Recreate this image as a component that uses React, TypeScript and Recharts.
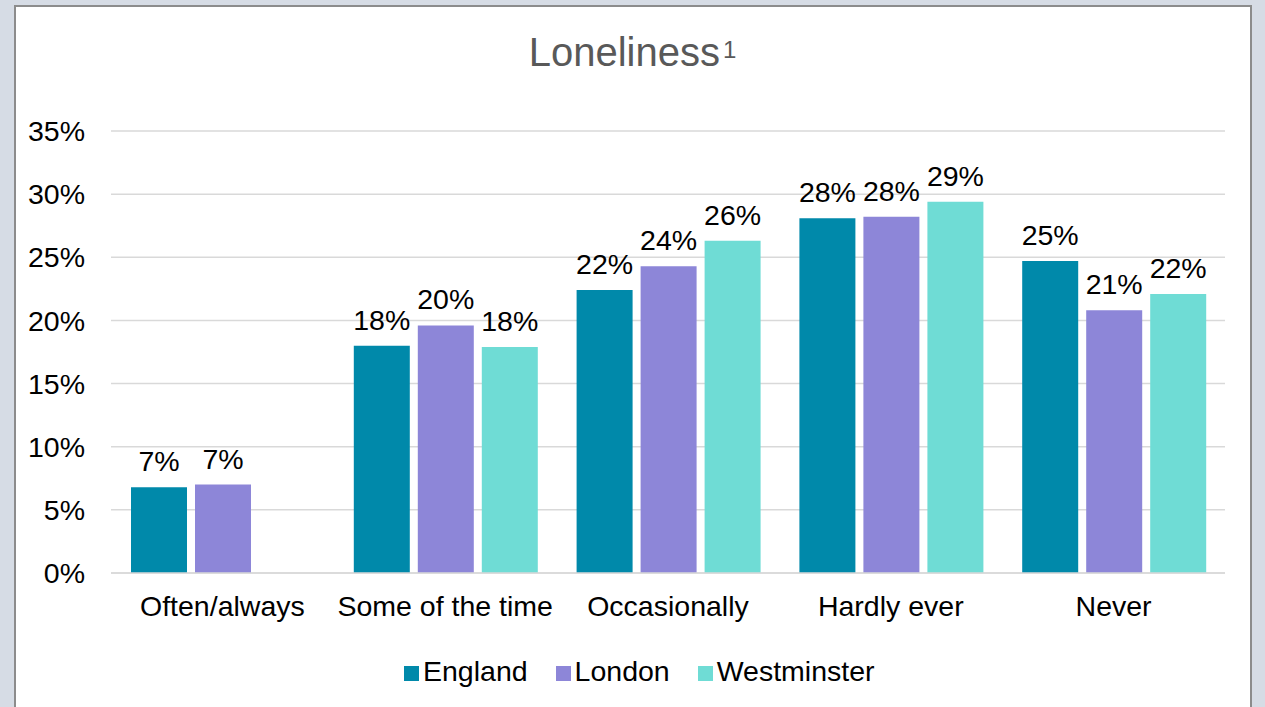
import React from 'react';
import { BarChart, Bar, XAxis, YAxis, CartesianGrid, Legend, LabelList } from 'recharts';

const categories = ['Often/always', 'Some of the time', 'Occasionally', 'Hardly ever', 'Never'];
const england = [6.8, 18.0, 22.4, 28.1, 24.7];
const london = [7.0, 19.6, 24.3, 28.2, 20.8];
const westminster: (number | null)[] = [null, 17.9, 26.3, 29.4, 22.1];
const yTicks = [0, 5, 10, 15, 20, 25, 30, 35];

const data = categories.map((c, i) => ({
  name: c,
  England: england[i],
  London: london[i],
  Westminster: westminster[i],
}));

const FONT = 'Liberation Sans, Arial, sans-serif';
const FS = 28.5;
const fmt = (v: any) => (v == null ? '' : `${Math.round(v)}%`);

export default function App() {
  return (
    <div style={{ position: 'fixed', left: 0, top: 0, width: 1265, height: 707, background: '#D6DCE5', overflow: 'hidden', fontFamily: FONT }}>
      <div style={{ position: 'absolute', left: 14, top: 5, width: 1238, height: 720, background: '#fff', border: '2px solid #8c8c8c', boxSizing: 'border-box' }} />
      <div style={{ position: 'absolute', left: 0, top: 26, width: 1265, textAlign: 'center', fontSize: 40, color: '#595959', lineHeight: '52px' }}>
        Loneliness<sup style={{ fontSize: 24, verticalAlign: 'top', position: 'relative', top: -2, marginLeft: 3 }}>1</sup>
      </div>
      <div style={{ position: 'absolute', left: 0, top: 0 }}>
        <BarChart width={1265} height={707} data={data} margin={{ top: 131, right: 40, bottom: 41, left: 0 }} barCategoryGap={20} barGap={8}>
          <CartesianGrid vertical={false} stroke="#d9d9d9" strokeWidth={1.5} />
          <XAxis dataKey="name" axisLine={{ stroke: '#d9d9d9', strokeWidth: 1.5 }} tickLine={false} tickSize={0} tickMargin={23} height={60}
            tick={{ fontSize: FS, fill: '#000', fontFamily: FONT }} interval={0} />
          <YAxis width={111} domain={[0, 35]} ticks={yTicks} axisLine={false} tickLine={false} tickSize={0} tickMargin={26}
            tickFormatter={(v: number) => `${v}%`} tick={{ fontSize: FS, fill: '#000', fontFamily: FONT }} />
          <Legend verticalAlign="bottom" align="left" iconType="square" iconSize={15}
            wrapperStyle={{ fontSize: FS, fontFamily: FONT, color: '#000', left: 404, bottom: 19, width: 'auto' }}
            formatter={(v: string) => <span style={{ color: '#000', paddingRight: 18, marginLeft: 0 }}>{v}</span>} />
          <Bar dataKey="England" fill="#0089AA" isAnimationActive={false}>
            <LabelList dataKey="England" position="top" offset={16} formatter={fmt} style={{ fontSize: FS, fill: '#000', fontFamily: FONT }} />
          </Bar>
          <Bar dataKey="London" fill="#8D86D8" isAnimationActive={false}>
            <LabelList dataKey="London" position="top" offset={16} formatter={fmt} style={{ fontSize: FS, fill: '#000', fontFamily: FONT }} />
          </Bar>
          <Bar dataKey="Westminster" fill="#6FDCD5" isAnimationActive={false}>
            <LabelList dataKey="Westminster" position="top" offset={16} formatter={fmt} style={{ fontSize: FS, fill: '#000', fontFamily: FONT }} />
          </Bar>
        </BarChart>
      </div>
    </div>
  );
}
